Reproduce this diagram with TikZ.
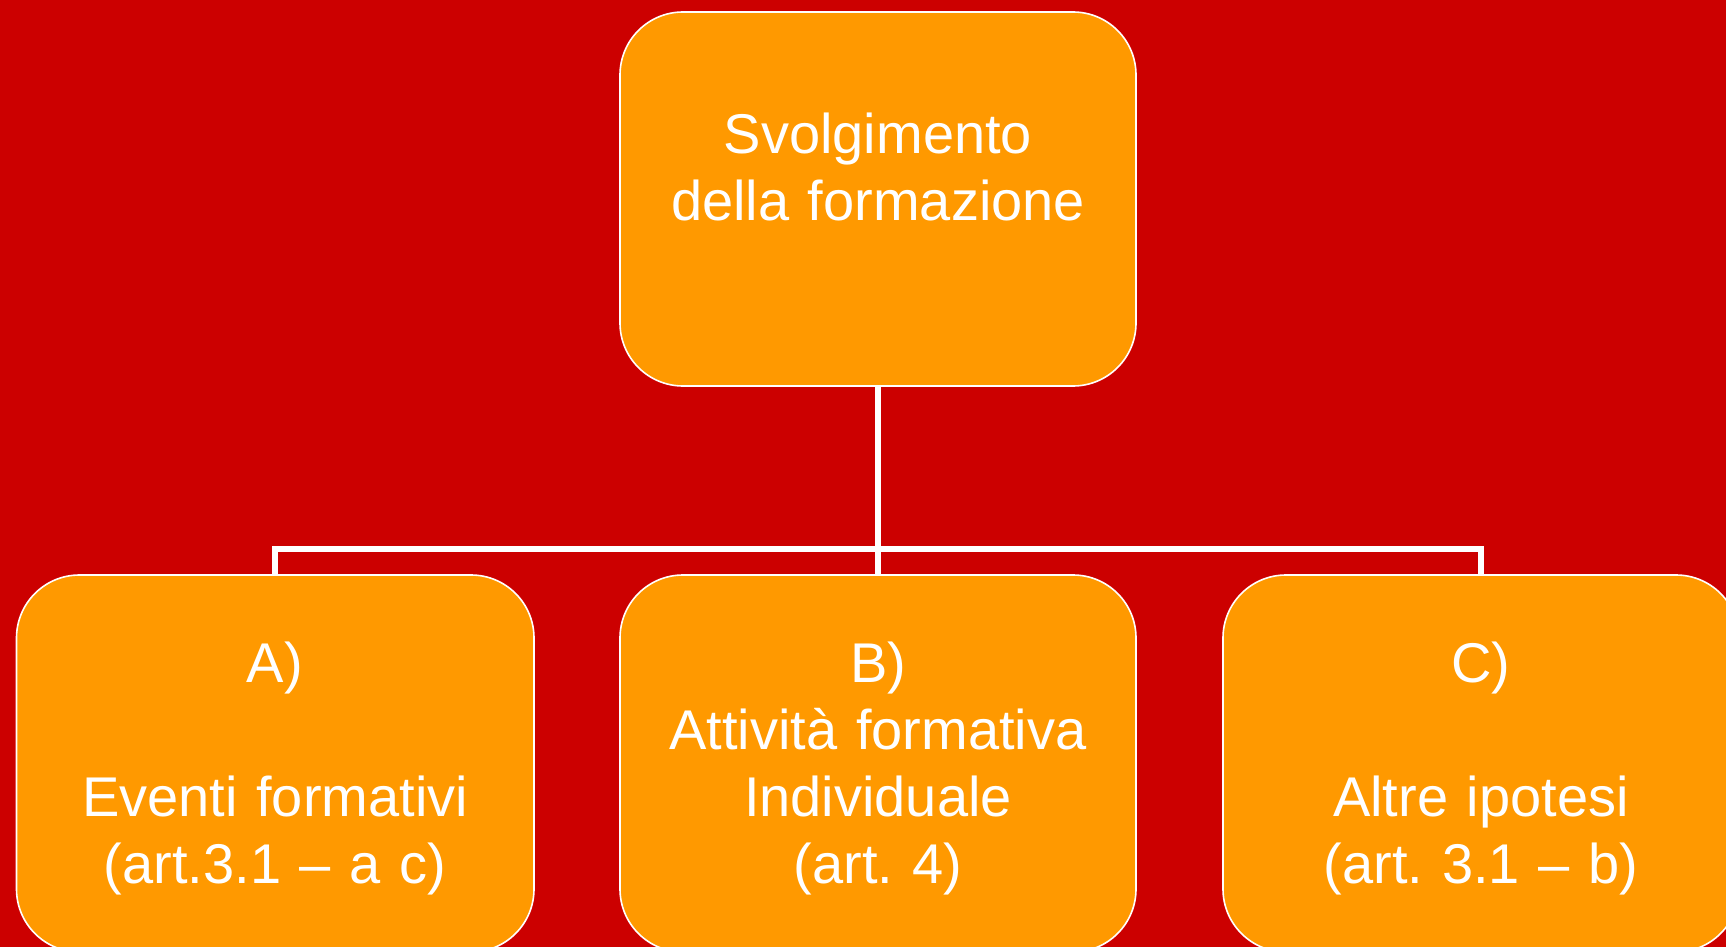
\documentclass[tikz,border=0pt]{standalone}
\usepackage{fontspec}
\setmainfont{Liberation Sans}
\usetikzlibrary{fit}
\definecolor{bgred}{HTML}{CC0000}
\definecolor{boxorange}{HTML}{FF9900}
\frenchspacing
\begin{document}
\begin{tikzpicture}[x=0.5pt,y=-0.5pt,
  box/.style={draw=white, line width=0.8pt, fill=boxorange, rounded corners=31.5pt, inner sep=0pt},
  txt/.style={text=white, align=center, text width=250pt, inner sep=0pt, font=\fontsize{28}{33.5}\selectfont\frenchspacing},
  conn/.style={draw=white, line width=3pt}]
\useasboundingbox (0,0) rectangle (1726,947);
\clip (0,0) rectangle (1726,947);
\fill[bgred] (0,0) rectangle (1726,947);
\node[box, fit={(620,12) (1136,386)}] (top) {};
\node[box, fit={(16.5,575) (534,952)}] (A) {};
\node[box, fit={(620,575) (1136,952)}] (B) {};
\node[box, fit={(1223,575) (1739,952)}] (C) {};
\coordinate (bus) at (878,549);
\draw[conn] (top.south) -- (bus);
\draw[conn] (A.north) |- (bus) -| (C.north);
\draw[conn] (bus) -- (B.north);
\node[txt, anchor=base] (ttop) at (878,154) {Svolgimento\\della formazione};
\node[txt, anchor=base] (tA) at (275,682) {A)\\[33.5pt]Eventi formativi\\(art.3.1 – a c)};
\node[txt, anchor=base] (tB) at (878,682) {B)\\Attività formativa\\Individuale\\(art. 4)};
\node[txt, anchor=base] (tC) at (1481,682) {C)\\[33.5pt]Altre ipotesi\\(art. 3.1 – b)};
\end{tikzpicture}
\end{document}
